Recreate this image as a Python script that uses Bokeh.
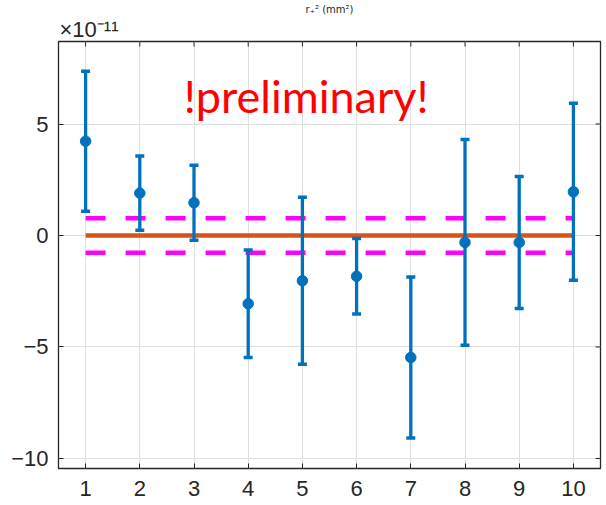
import math
from bokeh.plotting import figure
from bokeh.models import Range1d, FixedTicker, Label, Title
from bokeh.embed import file_html
from bokeh.resources import INLINE

# Measurements (values in units of 1e-11 mm^2)
runs = [1, 2, 3, 4, 5, 6, 7, 8, 9, 10]
means = [4.23, 1.90, 1.47, -3.06, -2.03, -1.83, -5.47, -0.31, -0.31, 1.96]
errors = [3.14, 1.66, 1.68, 2.41, 3.75, 1.69, 3.61, 4.61, 2.96, 3.97]
band = 0.77          # +/- limit drawn as dashed lines
reference = 0.0      # expected value
x_ticks = [1, 2, 3, 4, 5, 6, 7, 8, 9, 10]
y_ticks = [-10, -5, 0, 5]
x_lim = (0.5, 10.5)
y_lim = (-10.45, 8.70)

BLUE = "#0072BD"
ORANGE = "#D95319"
MAGENTA = "#FF00FF"
AX = "#262626"

p = figure(width=606, height=505, output_backend="svg", toolbar_location=None,
           title=None,
           x_range=Range1d(*x_lim), y_range=Range1d(*y_lim),
           min_border_left=58, min_border_right=6, min_border_top=41,
           min_border_bottom=37)
p.background_fill_color = "white"
p.border_fill_color = "white"
p.outline_line_color = AX
p.outline_line_width = 1.3

for ax in [p.xaxis[0], p.yaxis[0]]:
    ax.axis_line_color = None
    ax.major_tick_in = 5
    ax.major_tick_out = 0
    ax.minor_tick_line_color = None
    ax.major_tick_line_color = AX
    ax.major_label_text_font = "Liberation Sans"
    ax.major_label_text_font_size = "22px"
    ax.major_label_text_color = AX
p.xaxis.ticker = FixedTicker(ticks=x_ticks)
p.yaxis.ticker = FixedTicker(ticks=y_ticks)
p.xaxis.major_label_standoff = 12
p.yaxis.major_label_standoff = 10

p.xgrid.ticker = FixedTicker(ticks=x_ticks)
p.ygrid.ticker = FixedTicker(ticks=y_ticks)
p.grid.grid_line_color = "#dfdfdf"
p.grid.grid_line_width = 1

# inward tick marks mirrored on the top and right edges (outer half is clipped)
p.scatter(x_ticks, [y_lim[1]] * len(x_ticks), marker="dash", angle=math.pi / 2,
          size=10, line_color=AX, line_width=1)
p.scatter([x_lim[1]] * len(y_ticks), y_ticks, marker="dash",
          size=10, line_color=AX, line_width=1)

# reference line and limits
p.line([runs[0], runs[-1]], [reference, reference], line_color=ORANGE, line_width=4.5)
p.line([runs[0], runs[-1]], [band, band], line_color=MAGENTA, line_width=4.5,
       line_dash="20 20")
p.line([runs[0], runs[-1]], [-band, -band], line_color=MAGENTA, line_width=4.5,
       line_dash="20 20")

# error bars
lo = [m - e for m, e in zip(means, errors)]
hi = [m + e for m, e in zip(means, errors)]
p.segment(x0=runs, y0=lo, x1=runs, y1=hi, line_color=BLUE, line_width=3.3)
p.scatter(runs, lo, marker="dash", size=9, line_color=BLUE, line_width=3.5)
p.scatter(runs, hi, marker="dash", size=9, line_color=BLUE, line_width=3.5)
p.scatter(runs, means, marker="circle", size=10.5, fill_color=BLUE, line_color=BLUE)

p.add_layout(Label(x=5.07, y=6.24, text="!preliminary!", text_font="Lato",
                   text_font_size="45px", text_color="#FF0000", text_align="center",
                   text_baseline="alphabetic"))

# exponent marker (nearest the frame) and the small title above it
p.add_layout(Title(text="\u00d710\u207b\u00b9\u00b9", align="left", offset=1,
                   text_font="Liberation Sans", text_font_size="22px",
                   text_font_style="normal", text_color=AX, standoff=0), "above")
p.add_layout(Title(text="r\u208a\u00b2 (mm\u00b2)", align="center",
                   text_font="DejaVu Sans", text_font_size="10px",
                   text_font_style="normal", text_color=AX, standoff=0), "above")

open("out.html", "w").write(file_html(p, INLINE))
